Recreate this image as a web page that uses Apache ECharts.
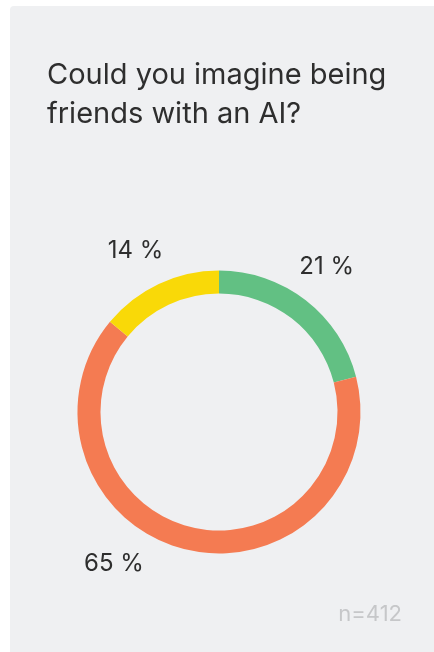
<!DOCTYPE html>
<html>
<head>
<meta charset="utf-8">
<script src="https://cdn.jsdelivr.net/npm/echarts@6/dist/echarts.min.js"></script>
<style>
  html, body { margin: 0; padding: 0; background: #ffffff; overflow: hidden; width: 434px; height: 652px; }
  #card {
    position: absolute; left: 10px; top: 6px;
    width: 440px; height: 660px;
    background: #eff0f2; border-top-left-radius: 4px;
  }
  #chart { position: absolute; left: 0; top: 0; width: 424px; height: 646px; }
</style>
</head>
<body>
<div id="card"><div id="chart"></div></div>
<script>
// Survey answers, clockwise from 12 o'clock
const answers = ['Yes', 'No', 'Maybe'];
const shares = [21, 65, 14];
const sliceColors = ['#62c083', '#f47b52', '#f9d908'];
const questionText = 'Could you imagine being\nfriends with an AI?';
const sampleSize = 412;

const chart = echarts.init(document.getElementById('chart'), null, { renderer: 'canvas' });

const CX = 209, CY = 406, R_OUT = 141.5, R_IN = 118.5;
// label placement around the ring: extra turn (degrees) and distance per slice
const labelTurn = { 0: -1.2, 1: 22, 2: -2.2 };
const labelDist = { 0: 180.5, 1: 185, 2: 181.5 };

const total = shares.reduce((a, b) => a + b, 0);
function midAngle(i) {
  let before = 0;
  for (let k = 0; k < i; k++) before += shares[k];
  return ((before + shares[i] / 2) / total) * 360;
}

chart.setOption({
  backgroundColor: 'transparent',
  animation: false,
  title: [{
    text: questionText,
    left: 37, top: 50, padding: 0,
    textStyle: { fontFamily: 'Inter', fontSize: 29, fontWeight: 'normal', color: '#2e2e2e', lineHeight: 39 }
  }, {
    text: 'n=' + sampleSize,
    right: 32, top: 597, padding: 0,
    textStyle: { fontFamily: 'Inter', fontSize: 22, fontWeight: 'normal', color: '#c6c7c9' }
  }],
  series: [{
    type: 'pie',
    center: [CX, CY],
    radius: [R_IN, R_OUT],
    startAngle: 90,
    clockwise: true,
    silent: true,
    label: {
      show: true,
      position: 'outside',
      formatter: p => p.value + ' %',
      fontFamily: 'Inter', fontSize: 24, color: '#2e2e2e'
    },
    labelLine: { show: false },
    labelLayout: p => {
      const i = p.dataIndex;
      const a = (midAngle(i) + labelTurn[i]) * Math.PI / 180;
      return {
        x: CX + labelDist[i] * Math.sin(a),
        y: CY - labelDist[i] * Math.cos(a),
        align: 'center', verticalAlign: 'middle'
      };
    },
    data: answers.map((name, i) => ({ name, value: shares[i], itemStyle: { color: sliceColors[i] } }))
  }]
});
</script>
</body>
</html>
